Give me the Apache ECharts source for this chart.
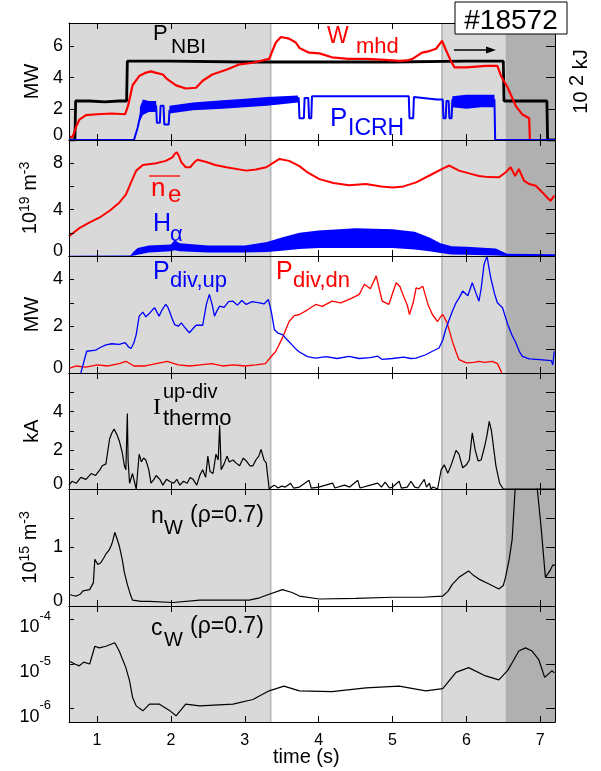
<!DOCTYPE html>
<html>
<head>
<meta charset="utf-8">
<title>#18572</title>
<script src="https://cdn.jsdelivr.net/npm/echarts@6/dist/echarts.min.js"></script>
<style>
  html, body { margin: 0; padding: 0; background: #fff; }
  #chart { width: 601px; height: 771px; }
</style>
</head>
<body>
<div id="chart"></div>
<script>
// ---- time axis (s) and phases ----
const timeTicks = [1, 2, 3, 4, 5, 6, 7];
const phaseLight = [[0.62, 3.35], [5.67, 6.53]];
const phaseDark = [[6.53, 7.2]];
const phaseEdges = [3.35, 5.67];

// ---- panel 1: P_NBI, W_mhd (MW / 10^2 kJ), P_ICRH ----
const pNbi = [[0.62,0],[0.70,0],[0.71,2.5],[0.9,2.5],[1.1,2.45],[1.3,2.5],[1.40,2.5],[1.41,5.05],[2.0,5.05],[3.0,5.0],[4.0,5.0],[5.0,5.0],[6.0,5.05],[6.50,5.05],[6.51,2.5],[6.8,2.5],[7.09,2.5],[7.10,0],[7.2,0]];
const wMhd = [[0.62,0.2],[0.67,0.2],[0.72,0.9],[0.76,1.3],[0.85,1.6],[1.0,1.65],[1.2,1.7],[1.38,1.65],[1.42,2.2],[1.48,3.5],[1.57,4.1],[1.65,4.3],[1.73,4.4],[1.80,4.3],[1.89,4.2],[1.95,3.9],[2.07,3.5],[2.20,3.3],[2.34,3.35],[2.43,3.8],[2.56,4.2],[2.75,4.5],[2.93,4.85],[3.11,4.95],[3.33,5.2],[3.42,6.25],[3.49,6.6],[3.60,6.5],[3.69,6.25],[3.74,5.9],[3.87,5.6],[4.01,5.55],[4.18,5.3],[4.40,5.2],[4.64,5.2],[4.85,5.15],[5.09,5.07],[5.20,5.1],[5.27,5.2],[5.40,5.6],[5.50,5.7],[5.59,5.85],[5.67,6.36],[5.72,5.8],[5.79,5.07],[5.84,4.65],[6.0,4.65],[6.26,4.75],[6.42,4.75],[6.47,4.1],[6.56,3.35],[6.67,2.17],[6.76,1.63],[6.85,1.4],[6.86,0],[7.2,0]];
const pIcrh = [[0.62,0],[1.50,0],[1.55,0.8],[1.60,1.9],[1.66,2.3],[1.75,2.2],[1.80,2.2],[1.81,1.1],[1.85,1.1],[1.86,2.2],[1.90,2.2],[1.91,1.0],[1.97,1.0],[1.98,1.9],[2.1,2.0],[2.5,2.2],[3.0,2.4],[3.3,2.5],[3.6,2.6],[3.73,2.7],[3.74,1.4],[3.80,1.4],[3.81,2.7],[3.86,2.7],[3.87,1.4],[3.90,1.4],[3.91,2.8],[4.5,2.8],[5.0,2.8],[5.22,2.8],[5.23,1.4],[5.28,1.4],[5.29,2.75],[5.6,2.6],[5.68,2.6],[5.69,1.4],[5.72,1.4],[5.73,2.5],[5.76,2.5],[5.77,1.4],[5.80,1.4],[5.81,2.6],[6.0,2.6],[6.38,2.6],[6.39,0],[7.2,0]];
// noisy spread of P_ICRH, segments of [t, low, high]
const icrhSpread = [
  [[1.58,1.2,2.1],[1.62,1.6,2.6],[1.70,1.8,2.5],[1.80,1.8,2.5]],
  [[1.98,1.7,2.2],[2.3,1.9,2.4],[2.7,2.0,2.55],[3.0,2.1,2.65],[3.3,2.2,2.75],[3.72,2.4,2.85]],
  [[5.81,2.1,2.8],[6.0,2.0,2.9],[6.2,2.1,2.9],[6.38,2.1,2.9]]
];

// ---- panel 2: line-averaged n_e (10^19 m^-3), H_alpha band [t, low, high] ----
const nE = [[0.62,1.7],[0.76,2.4],[0.90,2.9],[1.03,3.3],[1.17,3.9],[1.30,4.6],[1.39,5.3],[1.46,6.35],[1.53,7.36],[1.62,7.85],[1.80,8.0],[1.93,8.2],[2.02,8.5],[2.05,8.8],[2.08,8.95],[2.11,8.6],[2.14,8.1],[2.20,7.65],[2.26,7.65],[2.32,8.1],[2.36,8.3],[2.48,8.1],[2.60,7.85],[2.75,7.65],[3.02,7.36],[3.15,7.45],[3.29,7.65],[3.40,8.1],[3.47,8.37],[3.60,8.2],[3.74,7.75],[3.85,7.2],[4.01,6.63],[4.2,6.3],[4.41,6.1],[4.64,6.2],[4.85,6.0],[5.0,5.9],[5.15,6.0],[5.32,6.35],[5.54,7.07],[5.70,7.6],[5.77,7.8],[5.90,7.36],[6.05,7.1],[6.17,6.9],[6.30,6.8],[6.44,6.78],[6.53,7.2],[6.60,7.65],[6.66,6.9],[6.71,7.5],[6.78,6.5],[6.85,6.2],[6.94,6.05],[7.03,5.48],[7.10,5.0],[7.14,4.75],[7.19,5.2]];
const hAlpha = [[0.62,0,0.03],[1.45,0,0.05],[1.50,0.05,0.4],[1.55,0.1,0.7],[1.70,0.3,0.9],[2.0,0.4,1.0],[2.05,0.5,1.35],[2.12,0.4,1.1],[2.5,0.3,0.9],[3.0,0.3,0.9],[3.3,0.35,1.2],[3.5,0.45,1.6],[3.74,0.6,2.0],[4.0,0.7,2.2],[4.5,0.7,2.4],[5.0,0.7,2.3],[5.3,0.55,2.1],[5.5,0.4,1.6],[5.65,0.25,1.1],[5.8,0.12,0.85],[6.0,0.1,0.8],[6.4,0.05,0.65],[6.55,0.0,0.2],[7.2,0.0,0.15]];

// ---- panel 3: divertor powers (MW) ----
const pDivUp = [[0.62,-1.5],[0.78,0],[0.86,0.93],[0.98,0.98],[1.05,1.1],[1.12,1.2],[1.20,1.25],[1.30,1.22],[1.38,1.3],[1.43,1.1],[1.46,1.05],[1.50,1.3],[1.53,1.64],[1.57,2.43],[1.62,2.6],[1.66,2.4],[1.71,2.55],[1.75,2.7],[1.78,2.79],[1.81,2.6],[1.84,2.43],[1.88,2.7],[1.93,2.93],[1.96,2.8],[1.98,2.64],[2.02,2.3],[2.05,2.07],[2.10,2.0],[2.14,2.14],[2.20,1.9],[2.25,1.72],[2.30,1.9],[2.34,2.04],[2.43,2.04],[2.48,2.93],[2.52,3.36],[2.56,2.9],[2.59,2.43],[2.63,2.7],[2.66,2.86],[2.72,2.8],[2.78,3.05],[2.84,3.07],[2.90,2.9],[2.96,3.1],[3.02,2.93],[3.10,3.05],[3.20,3.0],[3.26,2.95],[3.32,3.14],[3.36,2.6],[3.40,1.86],[3.45,1.7],[3.51,1.64],[3.58,1.4],[3.64,1.2],[3.70,1.0],[3.74,0.9],[3.85,0.7],[3.96,0.64],[4.1,0.7],[4.25,0.62],[4.41,0.71],[4.55,0.62],[4.70,0.66],[4.80,0.72],[4.86,0.58],[5.0,0.62],[5.15,0.68],[5.25,0.62],[5.32,0.64],[5.45,0.78],[5.54,0.93],[5.63,1.07],[5.68,1.4],[5.72,1.86],[5.77,2.3],[5.81,2.64],[5.86,3.0],[5.90,3.2],[5.95,3.5],[6.02,3.3],[6.08,3.86],[6.12,3.5],[6.17,3.07],[6.20,3.6],[6.24,4.65],[6.28,5.0],[6.30,4.6],[6.33,4.07],[6.38,3.4],[6.42,3.0],[6.49,2.79],[6.56,2.07],[6.62,1.6],[6.67,1.29],[6.72,0.9],[6.76,0.71],[6.85,0.6],[6.99,0.57],[7.15,0.53],[7.17,0.35],[7.19,0.93]];
const pDivDn = [[0.62,0.2],[0.72,0.3],[0.85,0.25],[1.0,0.35],[1.15,0.3],[1.30,0.4],[1.39,0.5],[1.50,0.3],[1.65,0.3],[1.80,0.4],[1.95,0.5],[2.10,0.35],[2.25,0.3],[2.40,0.35],[2.55,0.4],[2.70,0.3],[2.85,0.35],[3.00,0.3],[3.15,0.35],[3.28,0.4],[3.33,0.6],[3.42,0.93],[3.51,1.5],[3.60,2.2],[3.67,2.45],[3.74,2.5],[3.85,2.7],[3.96,2.93],[4.05,2.85],[4.18,3.07],[4.30,3.0],[4.45,3.2],[4.55,3.36],[4.62,3.79],[4.70,3.6],[4.78,4.15],[4.82,3.6],[4.86,3.07],[4.95,2.93],[5.0,3.4],[5.05,3.86],[5.10,3.7],[5.14,3.36],[5.20,2.9],[5.23,2.5],[5.28,3.0],[5.32,3.64],[5.36,3.6],[5.41,3.71],[5.48,2.93],[5.54,2.5],[5.61,2.2],[5.65,2.4],[5.68,2.5],[5.74,2.14],[5.81,1.36],[5.86,0.9],[5.90,0.57],[6.0,0.43],[6.10,0.45],[6.17,0.5],[6.25,0.45],[6.35,0.5],[6.42,0.4],[6.47,0.07],[6.52,-0.4]];

// ---- panel 4: thermo current, upper divertor (kA) ----
const iThermo = [[0.62,0.2],[0.66,0.4],[0.72,0.3],[0.78,0.6],[0.85,0.5],[0.92,0.8],[0.98,0.7],[1.04,1.0],[1.07,1.2],[1.12,1.3],[1.17,2.6],[1.20,2.9],[1.23,3.1],[1.27,2.8],[1.30,2.5],[1.34,1.9],[1.37,1.2],[1.39,1.0],[1.41,3.9],[1.42,1.5],[1.44,0.3],[1.48,0.8],[1.53,0.0],[1.57,1.8],[1.60,1.4],[1.63,1.6],[1.66,1.5],[1.70,1.0],[1.73,0.3],[1.77,0.5],[1.80,0.7],[1.85,0.5],[1.89,0.2],[1.94,0.5],[1.98,0.4],[2.04,0.3],[2.08,0.5],[2.12,0.2],[2.17,0.4],[2.22,0.3],[2.26,0.6],[2.30,0.5],[2.35,0.2],[2.39,0.7],[2.43,1.0],[2.47,0.6],[2.50,1.7],[2.53,0.9],[2.57,0.8],[2.61,1.8],[2.64,1.5],[2.66,3.3],[2.68,1.0],[2.72,1.3],[2.76,1.7],[2.79,1.4],[2.84,1.5],[2.88,1.35],[2.93,1.2],[2.98,1.6],[3.02,1.45],[3.07,1.2],[3.11,1.2],[3.15,1.5],[3.19,1.7],[3.22,2.05],[3.26,1.5],[3.29,1.35],[3.33,0.0],[3.36,0.1],[3.40,0.2],[3.45,0.05],[3.50,0.15],[3.55,0.1],[3.62,0.3],[3.66,0.05],[3.74,0.1],[3.87,0.45],[3.90,0.05],[4.0,0.1],[4.19,0.3],[4.22,0.05],[4.35,0.2],[4.42,0.1],[4.53,0.45],[4.56,0.05],[4.7,0.2],[4.8,0.3],[4.85,0.1],[4.9,0.35],[4.96,0.05],[5.0,0.1],[5.09,0.4],[5.12,0.05],[5.2,0.1],[5.25,0.4],[5.3,0.1],[5.35,0.05],[5.43,0.5],[5.46,0.1],[5.5,0.3],[5.52,0.0],[5.55,0.1],[5.61,0.0],[5.66,1.0],[5.70,1.25],[5.75,0.82],[5.80,1.3],[5.86,2.0],[5.90,1.8],[5.95,1.1],[6.0,1.25],[6.04,1.5],[6.08,2.9],[6.12,2.0],[6.16,1.45],[6.20,1.5],[6.25,2.25],[6.28,2.8],[6.31,3.5],[6.34,3.0],[6.36,2.4],[6.40,1.2],[6.45,0.3],[6.5,0],[7.2,0]];

// ---- panel 5: W density at rho=0.7 (10^15 m^-3) ----
const nW = [[0.62,0.2],[0.67,0.18],[0.72,0.17],[0.77,0.2],[0.81,0.26],[0.90,0.28],[0.95,0.4],[0.97,0.8],[1.01,0.71],[1.05,0.74],[1.09,0.82],[1.12,0.89],[1.16,0.95],[1.19,1.03],[1.21,1.1],[1.24,1.26],[1.27,1.15],[1.30,1.03],[1.34,0.8],[1.37,0.57],[1.41,0.37],[1.45,0.2],[1.48,0.1],[1.60,0.08],[1.71,0.08],[2.03,0.06],[2.39,0.1],[2.75,0.1],[3.06,0.1],[3.20,0.14],[3.33,0.2],[3.51,0.28],[3.64,0.23],[3.74,0.17],[4.01,0.12],[4.5,0.13],[5.0,0.15],[5.4,0.15],[5.68,0.17],[5.75,0.25],[5.81,0.37],[5.90,0.49],[6.03,0.6],[6.10,0.52],[6.17,0.46],[6.30,0.38],[6.44,0.29],[6.50,0.35],[6.53,0.49],[6.58,0.8],[6.62,1.14],[6.66,2.0],[6.72,2.8],[6.80,3.0],[6.90,2.8],[6.96,2.0],[7.01,1.37],[7.07,0.49],[7.13,0.6],[7.17,0.7],[7.2,0.7]];

// ---- panel 6: W concentration at rho=0.7 ----
const cW = [[0.62,1.17e-5],[0.70,1.0e-5],[0.76,9.1e-6],[0.82,1.1e-5],[0.90,1.0e-5],[0.97,2.5e-5],[1.03,2.3e-5],[1.12,2.5e-5],[1.24,3.0e-5],[1.30,1.95e-5],[1.39,8.3e-6],[1.44,4.2e-6],[1.48,1.8e-6],[1.53,1.15e-6],[1.62,8.9e-7],[1.71,1.26e-6],[1.84,1.26e-6],[1.98,9.1e-7],[2.07,6.9e-7],[2.20,1.26e-6],[2.39,1.15e-6],[2.84,1.26e-6],[3.11,1.6e-6],[3.33,2.5e-6],[3.53,3.2e-6],[3.74,2.5e-6],[4.18,2.4e-6],[4.64,2.9e-6],[5.09,3.2e-6],[5.45,2.5e-6],[5.68,2.8e-6],[5.86,6.5e-6],[6.03,8.3e-6],[6.26,5.4e-6],[6.44,4.4e-6],[6.56,7.2e-6],[6.62,1.07e-5],[6.71,1.95e-5],[6.80,2.3e-5],[6.89,1.95e-5],[6.98,1.26e-5],[7.06,5.0e-6],[7.16,7.1e-6],[7.19,6.3e-6]];

// ---- y scales per panel ----
const yRanges = [[0, 7.5], [0, 10], [0, 5], [0, 6], [0, 2], [5e-7, 2e-4]];
const yTicks = [[2, 4, 6], [2, 4, 6, 8], [1, 2, 3, 4], [1, 2, 3, 4, 5], [0.5, 1, 1.5], [1e-6, 1e-5, 1e-4]];
const yLabels = [[0, 2, 4, 6], [0, 4, 8], [0, 2, 4], [0, 2, 4], [0, 1], [1e-6, 1e-5, 1e-4]];
const yNames = ['MW', '10{s|19} m{s|-3}', 'MW', 'kA', '10{s|15} m{s|-3}', ''];

const FONT = '"Liberation Sans", Arial, sans-serif';
const RED = '#ff0000', BLUE = '#0000ff', BLACK = '#000000';
const gridTops = [23, 140, 256, 373, 489, 606, 722];

const chart = echarts.init(document.getElementById('chart'));

const grid = [], xAxis = [], yAxis = [], series = [];
for (let i = 0; i < 6; i++) {
  grid.push({ left: 69, width: 486, top: gridTops[i], height: gridTops[i + 1] - gridTops[i] });
  const xBase = {
    gridIndex: i, type: 'value', min: 0.62, max: 7.2, z: 5,
    splitLine: { show: false },
    axisLine: { show: true, onZero: false, lineStyle: { color: BLACK, width: 1 } },
    axisTick: { show: true, inside: true, length: 6, customValues: timeTicks, lineStyle: { color: BLACK } }
  };
  xAxis.push(Object.assign({}, xBase, {
    position: 'bottom',
    axisLabel: { show: i === 5, customValues: timeTicks, fontSize: 16, color: BLACK, fontFamily: FONT, margin: 11 }
  }));
  xAxis.push(Object.assign({}, xBase, { position: 'top', axisLabel: { show: false } }));

  const isLog = i === 5;
  const yBase = {
    gridIndex: i, type: isLog ? 'log' : 'value', min: yRanges[i][0], max: yRanges[i][1], z: 5,
    splitLine: { show: false },
    axisLine: { show: true, onZero: false, lineStyle: { color: BLACK, width: 1 } }
  };
  yAxis.push(Object.assign({}, yBase, {
    position: 'left',
    axisTick: { show: true, inside: true, length: 5, customValues: yTicks[i], lineStyle: { color: BLACK } },
    axisLabel: {
      show: true, customValues: yLabels[i], fontSize: 18, color: BLACK, fontFamily: FONT,
      margin: isLog ? 18 : 6,
      formatter: isLog
        ? v => '{b|10}{s|' + Math.round(Math.log10(v)) + '}'
        : v => (v === 0 ? '{z|0}' : String(v)),
      rich: {
        z: { fontSize: 18, fontFamily: FONT, color: BLACK, padding: [0, 0, 10, 0] },
        b: { fontSize: 18, fontFamily: FONT, color: BLACK, padding: [16, 0, 0, 0] },
        s: { fontSize: 13, fontFamily: FONT, color: BLACK, padding: [0, 0, 6, 0] }
      }
    },
    name: yNames[i], nameLocation: 'middle', nameRotate: 90, nameGap: 27,
    nameTextStyle: {
      fontSize: 20, fontFamily: FONT, color: BLACK,
      rich: { s: { fontSize: 14, fontFamily: FONT, color: BLACK, padding: [0, 0, 10, 0] } }
    }
  }));
  yAxis.push(Object.assign({}, yBase, {
    position: 'right',
    axisTick: { show: true, inside: true, length: 9, customValues: yTicks[i], lineStyle: { color: BLACK } },
    axisLabel: { show: false },
    name: i === 0 ? '10 {s|2} kJ' : '', nameLocation: 'middle', nameRotate: 90, nameGap: 12,
    nameTextStyle: {
      fontSize: 20, fontFamily: FONT, color: BLACK,
      rich: { s: { fontSize: 20, fontFamily: FONT, color: BLACK, padding: [0, 0, 8, 0] } }
    }
  }));

  // phase shading
  const areas = [];
  phaseLight.forEach(p => areas.push([{ xAxis: p[0], itemStyle: { color: '#d9d9d9' } }, { xAxis: p[1] }]));
  phaseDark.forEach(p => areas.push([{ xAxis: p[0], itemStyle: { color: '#b0b0b0' } }, { xAxis: p[1] }]));
  phaseEdges.forEach(e => areas.push([{ xAxis: e - 0.012, itemStyle: { color: '#b8b8b8' } }, { xAxis: e + 0.012 }]));
  series.push({
    type: 'line', xAxisIndex: 2 * i, yAxisIndex: 2 * i, data: [], silent: true, z: 1,
    markArea: { silent: true, z: 1, data: areas }
  });
}

function line(data, panel, color, width) {
  return {
    type: 'line', data: data, xAxisIndex: 2 * panel, yAxisIndex: 2 * panel,
    showSymbol: false, symbol: 'none', clip: true, z: 3, silent: true,
    lineStyle: { color: color, width: width || 1.2 }, itemStyle: { color: color }
  };
}

// filled band(s) between low and high envelopes, drawn through the axes
function band(segments, panel, color) {
  return {
    type: 'custom', xAxisIndex: 2 * panel, yAxisIndex: 2 * panel,
    data: segments.map((s, k) => [s[0][0], k]), clip: true, z: 3, silent: true,
    renderItem: (params, api) => {
      const seg = segments[params.dataIndex];
      const pts = seg.map(r => api.coord([r[0], r[2]]));
      for (let k = seg.length - 1; k >= 0; k--) pts.push(api.coord([seg[k][0], seg[k][1]]));
      return { type: 'polygon', shape: { points: pts }, style: { fill: color } };
    }
  };
}

series.push(line(pNbi, 0, BLACK, 2.8));
series.push(line(wMhd, 0, RED, 2.2));
series.push(band(icrhSpread, 0, BLUE));
series.push(line(pIcrh, 0, BLUE, 2));
series.push(line(nE, 1, RED, 2));
series.push(band([hAlpha], 1, BLUE));
series.push(line(pDivDn, 2, RED, 1.3));
series.push(line(pDivUp, 2, BLUE, 1.3));
series.push(line(iThermo, 3, BLACK, 1.2));
series.push(line(nW, 4, BLACK, 1.2));
series.push(line(cW, 5, BLACK, 1.2));

function txt(text, x, y, size, color, family, align) {
  return {
    type: 'text', z: 100, silent: true,
    style: {
      text: text, x: x, y: y, fill: color,
      fontSize: size, fontFamily: family || FONT,
      font: size + 'px ' + (family || FONT),
      align: align || 'left', textAlign: align || 'left',
      verticalAlign: 'top', textVerticalAlign: 'top'
    }
  };
}

const graphic = [
  txt('P', 153, 23, 22, BLACK), txt('NBI', 171, 37, 21, BLACK),
  txt('W', 327, 25, 23, RED), txt('mhd', 356, 36, 22, RED),
  txt('P', 330, 106, 26, BLUE), txt('ICRH', 348, 117, 23, BLUE),
  { type: 'line', z: 100, silent: true, shape: { x1: 149, y1: 176, x2: 180, y2: 176 }, style: { stroke: RED, lineWidth: 1.3 } },
  txt('n', 151, 176, 26, RED), txt('e', 168, 183, 24, RED),
  txt('H', 153, 212, 25, BLUE), txt('\u03b1', 170, 224, 22, BLUE),
  txt('P', 153, 260, 25, BLUE), txt('div,up', 170, 270, 22, BLUE),
  txt('P', 276, 260, 25, RED), txt('div,dn', 293, 270, 22, RED),
  txt('I', 153, 396, 24, BLACK, '"Liberation Serif", "Times New Roman", serif'),
  txt('up-div', 163, 382, 20, BLACK), txt('thermo', 163, 408, 22, BLACK),
  txt('n', 151, 505, 23, BLACK), txt('W', 164, 518, 20, BLACK), txt('(\u03c1=0.7)', 190, 504, 23, BLACK),
  txt('c', 151, 617, 23, BLACK), txt('W', 164, 630, 20, BLACK), txt('(\u03c1=0.7)', 190, 615, 23, BLACK),
  txt('time (s)', 273, 747, 20, BLACK),
  { type: 'rect', z: 100, silent: true, shape: { x: 455, y: 2, width: 112, height: 32 }, style: { fill: '#ffffff', stroke: BLACK, lineWidth: 1 } },
  txt('#18572', 511, 7, 28, BLACK, FONT, 'center'),
  { type: 'line', z: 100, silent: true, shape: { x1: 454, y1: 50, x2: 488, y2: 50 }, style: { stroke: BLACK, lineWidth: 1.3 } },
  { type: 'polygon', z: 100, silent: true, shape: { points: [[486, 46.5], [496, 50], [486, 53.5]] }, style: { fill: BLACK } }
];

chart.setOption({
  animation: false,
  backgroundColor: '#ffffff',
  grid: grid,
  xAxis: xAxis,
  yAxis: yAxis,
  series: series,
  graphic: graphic
});
</script>
</body>
</html>
